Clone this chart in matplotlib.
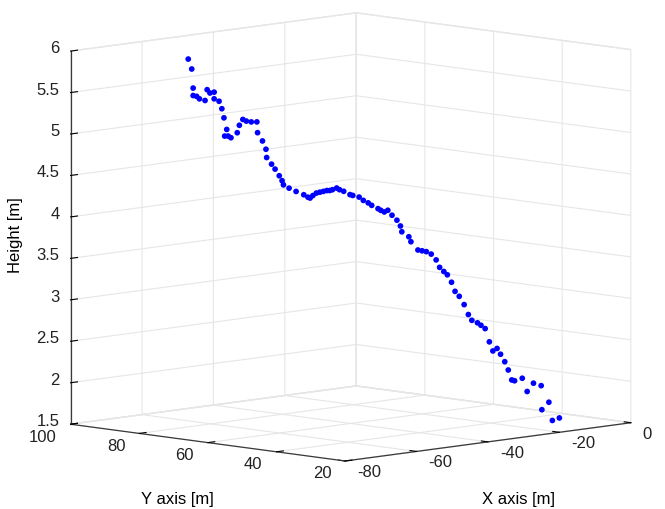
import numpy as np
import matplotlib.pyplot as plt
from mpl_toolkits.mplot3d import proj3d

# trajectory points (x, y in metres, height in metres)
x_pos = [-63.2, -62.7, -62.5, -62.5, -62.0, -61.6, -60.8, -60.5, -60.1, -59.5,
         -59.5, -58.8, -58.4, -58.1, -57.7, -58.0, -57.5, -57.1, -56.2, -55.9,
         -55.4, -54.9, -54.2, -53.4, -53.3, -52.6, -52.1, -52.0, -51.3, -50.8,
         -50.2, -49.8, -49.6, -48.8, -47.8, -46.7, -46.1, -45.8, -45.4, -44.9,
         -44.4, -43.9, -43.4, -43.0, -42.6, -42.0, -41.6, -41.0, -40.1, -39.7,
         -38.8, -38.2, -37.5, -37.0, -36.1, -35.7, -35.2, -34.7, -34.1, -33.4,
         -32.9, -32.7, -31.7, -31.4, -30.4, -29.8, -29.2, -28.5, -27.8, -27.3,
         -26.7, -26.2, -25.6, -25.1, -24.5, -23.8, -23.2, -22.7, -21.9, -21.4,
         -20.8, -20.2, -19.7, -19.1, -18.6, -18.0, -17.5, -17.0, -16.6, -15.5,
         -14.8, -13.9, -12.8, -11.7, -12.7, -11.2, -10.2]
y_pos = [83.2, 82.7, 82.5, 82.5, 82.0, 81.6, 80.8, 80.5, 80.1, 79.5,
         79.5, 78.8, 78.4, 78.1, 77.7, 78.0, 77.5, 77.1, 76.2, 75.9,
         75.4, 74.9, 74.2, 73.4, 73.3, 72.6, 72.1, 72.0, 71.3, 70.8,
         70.2, 69.8, 69.6, 68.8, 67.8, 66.7, 66.1, 65.8, 65.4, 64.9,
         64.4, 63.9, 63.4, 63.0, 62.6, 62.0, 61.6, 61.0, 60.1, 59.7,
         58.8, 58.2, 57.5, 57.0, 56.1, 55.7, 55.2, 54.7, 54.1, 53.4,
         52.9, 52.7, 51.7, 51.4, 50.4, 49.8, 49.2, 48.5, 47.8, 47.3,
         46.7, 46.2, 45.6, 45.1, 44.5, 43.8, 43.2, 42.7, 41.9, 41.4,
         40.8, 40.2, 39.7, 39.1, 38.6, 38.0, 37.5, 37.0, 36.6, 35.5,
         34.8, 33.9, 32.8, 31.7, 32.7, 31.2, 30.2]
height = [5.90, 5.78, 5.55, 5.46, 5.45, 5.42, 5.40, 5.53, 5.49, 5.50,
          5.42, 5.39, 5.30, 5.19, 5.05, 4.97, 4.97, 4.95, 5.01, 5.10,
          5.17, 5.15, 5.14, 5.14, 5.01, 4.91, 4.81, 4.71, 4.63, 4.57,
          4.49, 4.43, 4.38, 4.34, 4.30, 4.26, 4.23, 4.22, 4.25, 4.28,
          4.29, 4.30, 4.31, 4.31, 4.32, 4.34, 4.32, 4.30, 4.26, 4.25,
          4.23, 4.19, 4.16, 4.13, 4.09, 4.07, 4.05, 4.07, 4.01, 3.95,
          3.88, 3.81, 3.75, 3.69, 3.59, 3.58, 3.57, 3.54, 3.47, 3.38,
          3.33, 3.29, 3.20, 3.09, 3.03, 2.93, 2.81, 2.74, 2.71, 2.68,
          2.64, 2.48, 2.37, 2.40, 2.33, 2.24, 2.14, 2.02, 2.01, 2.04,
          1.88, 1.98, 1.95, 1.75, 1.66, 1.53, 1.56]

x_ticks = [-80, -60, -40, -20, 0]
y_ticks = [20, 40, 60, 80, 100]
z_ticks = [1.5, 2, 2.5, 3, 3.5, 4, 4.5, 5, 5.5, 6]

plt.rcParams['font.family'] = ['Liberation Sans', 'DejaVu Sans']
plt.rcParams['axes.unicode_minus'] = False

fig = plt.figure(figsize=(6.65, 5.1), dpi=100)
ax = fig.add_axes([0.017, 0.02, 1, 1], projection='3d', proj_type='ortho')
ax.view_init(elev=7.7, azim=-135)
ax.set_box_aspect((1.03, 0.99, 0.96), zoom=1.285)

ax.scatter(x_pos, y_pos, height, s=17, c='#0000ff', marker='o',
           edgecolors='none', depthshade=False)

ax.set_xlim(-80, 0)
ax.set_ylim(20, 100)
ax.set_zlim(1.5, 6)
ax.set_xticks(x_ticks)
ax.set_yticks(y_ticks)
ax.set_zticks(z_ticks)
ax.set_xticklabels([])
ax.set_yticklabels([])
ax.set_zticklabels([])

for axis in (ax.xaxis, ax.yaxis, ax.zaxis):
    axis.set_pane_color((1, 1, 1, 1))
    axis.pane.set_edgecolor('#e6e6e6')
    axis._axinfo['grid'].update(color='#e6e6e6', linewidth=0.8)
    axis.line.set_color('#3a3a3a')
    axis.line.set_linewidth(0.9)
    axis._axinfo['tick'].update(inward_factor=0.0, outward_factor=0.3)

# tick labels placed MATLAB-style next to the projected tick positions
M = ax.get_proj()
xmin, ymin, ymax, zmin = -80, 20, 100, 1.5
lab = dict(fontsize=12, color='#222222', textcoords='offset points',
           annotation_clip=False)
for v in x_ticks:
    px, py, _ = proj3d.proj_transform(v, ymin, zmin, M)
    ax.annotate('%g' % v, xy=(px, py), xytext=(8.5, -7.5), ha='left',
                va='center', **lab)
for v in y_ticks:
    px, py, _ = proj3d.proj_transform(xmin, v, zmin, M)
    ax.annotate('%g' % v, xy=(px, py), xytext=(-10, -8.5), ha='right',
                va='center', **lab)
for v in z_ticks:
    px, py, _ = proj3d.proj_transform(xmin, ymax, v, M)
    ax.annotate('%g' % v, xy=(px, py), xytext=(-8, 2.5), ha='right',
                va='center', **lab)

fig.text(0.266, 0.02, 'Y axis [m]', fontsize=12, ha='center', va='center')
fig.text(0.779, 0.02, 'X axis [m]', fontsize=12, ha='center', va='center')
fig.text(0.024, 0.539, 'Height [m]', fontsize=12, rotation=90,
         ha='center', va='center')

fig.savefig('out.png', dpi=100)
